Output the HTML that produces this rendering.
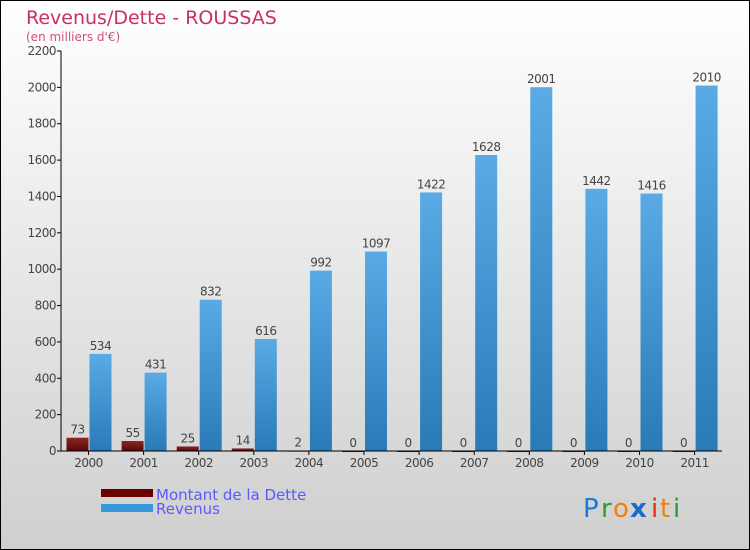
<!DOCTYPE html>
<html><head><meta charset="utf-8"><style>
body{margin:0}
#c{position:relative;width:748px;height:548px;border:1px solid #000;background:linear-gradient(#ffffff,#cfcfcf);font-family:"DejaVu Sans","Liberation Sans",sans-serif;overflow:hidden}
</style></head><body>
<div id="c">
<svg id="s" width="748" height="548">
<defs>
<linearGradient id="gb" x1="0" y1="0" x2="0" y2="1"><stop offset="0" stop-color="#5aaae6"/><stop offset="1" stop-color="#2a7ab8"/></linearGradient>
<linearGradient id="gr" x1="0" y1="0" x2="0" y2="1"><stop offset="0" stop-color="#8a2525"/><stop offset="1" stop-color="#5a0808"/></linearGradient>
</defs>
<text x="25" y="23" font-size="19" fill="#c8305f">Revenus/Dette - ROUSSAS</text>
<text x="25" y="40" font-size="12" fill="#d05080">(en milliers d'€)</text>
<g id="g"></g>
<rect x="100" y="488" width="52" height="8" fill="#6a0000"/>
<rect x="100" y="503" width="52" height="8" fill="#3498db"/>
<text x="155" y="499" font-size="15" fill="#5a5aff">Montant de la Dette</text>
<text x="155" y="513" font-size="15" fill="#5a5aff">Revenus</text>
<g font-size="26" font-family="'DejaVu Sans',sans-serif">
<text x="582" y="516" fill="#1a7ad8">P</text><text x="600" y="516" fill="#2a9a3a">r</text><text x="612" y="516" fill="#f08010">o</text><text x="629" y="516" fill="#1a6ad0" font-weight="bold">x</text><text x="650" y="516" fill="#e83010">i</text><text x="659" y="516" fill="#f08010">t</text><text x="672" y="516" fill="#2a9a3a">i</text>
</g>
</svg>
</div>
<script>
const categories=["2000","2001","2002","2003","2004","2005","2006","2007","2008","2009","2010","2011"];
const dette=[73,55,25,14,2,0,0,0,0,0,0,0];
const revenus=[534,431,832,616,992,1097,1422,1628,2001,1442,1416,2010];
const yTicks=[0,200,400,600,800,1000,1200,1400,1600,1800,2000,2200];
const NS="http://www.w3.org/2000/svg";
const g=document.getElementById('g');
const x0=60,step=55.1,y0=450,ymax=2200,ph=400;
const y=v=>y0-v/ymax*ph;
const cx=i=>x0+27.5+step*i;
function mk(t,a,txt){const e=document.createElementNS(NS,t);for(const k in a)e.setAttribute(k,a[k]);if(txt!==undefined)e.textContent=txt;g.appendChild(e);return e;}
yTicks.forEach(v=>{
 const l=mk('line',{x1:x0-4,x2:x0,y1:y(v),y2:y(v),stroke:'#000'});
 
 
 const t=mk('text',{x:x0-5,y:y(v)+4,'font-size':12,'text-anchor':'end',fill:'#444','letter-spacing':'-0.5'},v);
 
 
});
categories.forEach((c,i)=>{
 const d=mk('rect',{x:cx(i)-22,y:y(dette[i]),width:22,height:Math.max(y0-y(dette[i]),1),fill:'url(#gr)'});
 
 
 const r=mk('rect',{x:cx(i)+1,y:y(revenus[i]),width:22,height:y0-y(revenus[i]),fill:'url(#gb)'});
 
 
 const dl=mk('text',{x:cx(i)-11,y:y(dette[i])-4,'font-size':12,'text-anchor':'middle',fill:'#444','letter-spacing':'-0.5'},dette[i]);
 
 
 const rl=mk('text',{x:cx(i)+12,y:y(revenus[i])-4,'font-size':12,'text-anchor':'middle',fill:'#444','letter-spacing':'-0.5'},revenus[i]);
 
 
 const tk=mk('line',{x1:cx(i),x2:cx(i),y1:y0,y2:y0+4,stroke:'#000'});
 
 
 const xl=mk('text',{x:cx(i),y:y0+16,'font-size':12,'text-anchor':'middle',fill:'#444','letter-spacing':'-0.5'},c);
 
 
});
const ya=mk('line',{x1:x0,x2:x0,y1:y(2200),y2:y0,stroke:'#000'});


const xa=mk('line',{x1:x0,x2:721,y1:y0,y2:y0,stroke:'#000'});


</script>
</body></html>
